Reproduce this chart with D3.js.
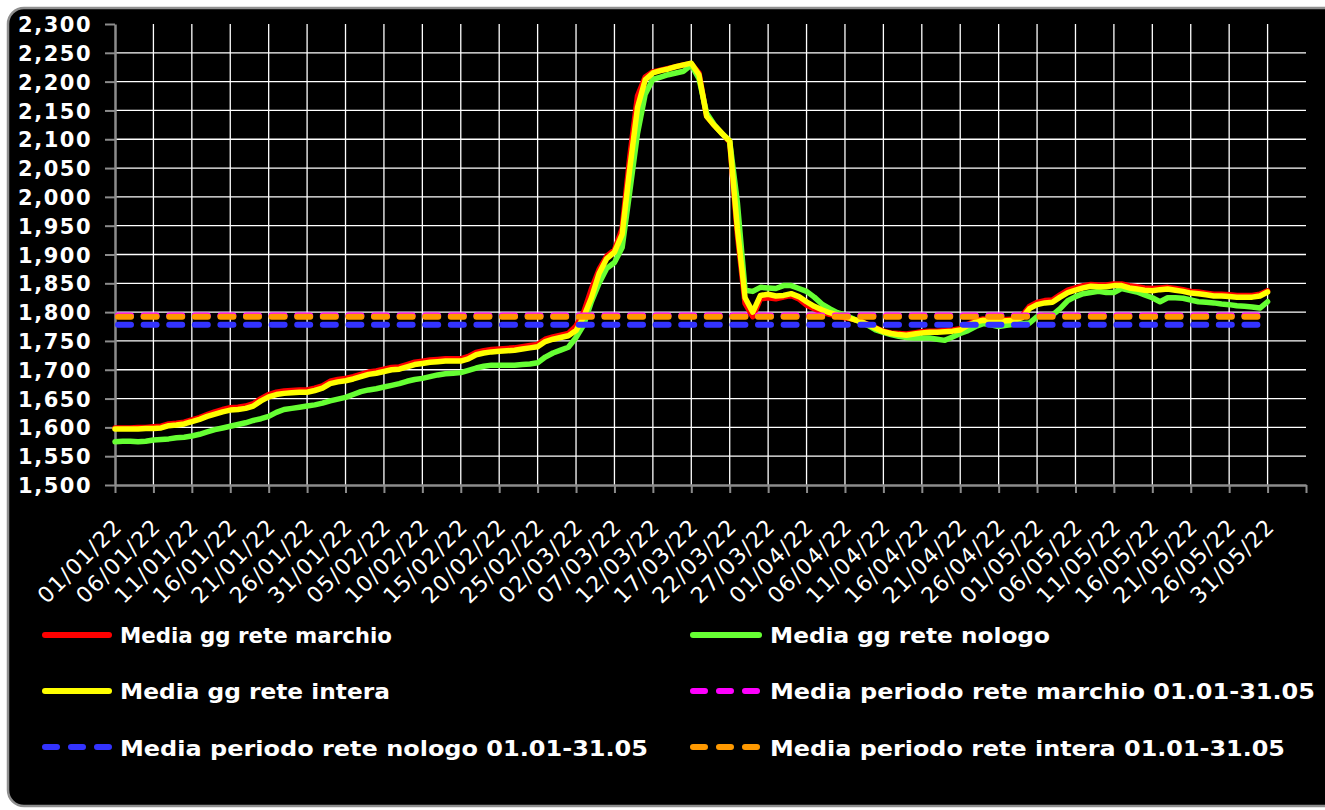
<!DOCTYPE html>
<html><head><meta charset="utf-8">
<script src="https://cdn.jsdelivr.net/npm/d3@7"></script>
<style>html,body{margin:0;padding:0;background:#fff;} svg{display:block;}</style>
</head><body>
<svg id="chart" width="1325" height="810"></svg>
<script>
// ---------- DATA ----------
const tickLabels = ["01/01/22","06/01/22","11/01/22","16/01/22","21/01/22","26/01/22","31/01/22",
  "05/02/22","10/02/22","15/02/22","20/02/22","25/02/22","02/03/22","07/03/22","12/03/22","17/03/22",
  "22/03/22","27/03/22","01/04/22","06/04/22","11/04/22","16/04/22","21/04/22","26/04/22","01/05/22",
  "06/05/22","11/05/22","16/05/22","21/05/22","26/05/22","31/05/22"];
const yTicks = [1500,1550,1600,1650,1700,1750,1800,1850,1900,1950,2000,2050,2100,2150,2200,2250,2300];

const marchio = [1599,1599,1599,1600,1600, 1601,1602,1606,1607,1609, 1613,1617,1622,1627,1631, 1634,1635,1637,1641,1650,
  1657,1661,1663,1664,1665, 1665,1668,1672,1680,1683, 1685,1688,1692,1696,1698, 1701,1704,1705,1709,1713,
  1715,1717,1718,1719,1719, 1719,1723,1730,1733,1735, 1736,1737,1738,1740,1742, 1744,1753,1757,1760,1763,
  1776,1800,1840,1874,1897, 1908,1945,2070,2175,2208, 2217,2220,2223,2226,2229, 2231,2215,2140,2124,2110,
  2095,1935,1815,1792,1823, 1825,1823,1826,1829,1823, 1812,1806,1800,1796,1793, 1790,1788,1784,1779,1773,
  1767,1764,1763,1762,1764, 1766,1767,1767,1768,1769, 1771,1779,1785,1788,1787, 1786,1787,1788,1793,1810,
  1817,1820,1821,1830,1838, 1842,1846,1848,1847,1847, 1849,1849,1846,1844,1842, 1841,1842,1843,1841,1839,
  1836,1835,1833,1831,1831, 1830,1829,1829,1829,1831, 1837];

const nologo = [1575,1576,1576,1575,1576, 1578,1579,1580,1582,1583, 1585,1588,1592,1596,1599, 1602,1605,1608,1612,1615,
  1619,1626,1631,1633,1635, 1637,1639,1642,1646,1649, 1652,1657,1662,1665,1667, 1670,1673,1676,1680,1683,
  1685,1688,1691,1693,1694, 1695,1699,1703,1706,1708, 1708,1708,1708,1709,1710, 1712,1722,1729,1734,1739,
  1756,1778,1818,1850,1876, 1886,1912,2010,2110,2178, 2204,2208,2212,2215,2218, 2229,2205,2145,2125,2110,
  2097,1990,1838,1836,1843, 1842,1841,1846,1846,1841, 1836,1826,1814,1806,1799, 1795,1789,1783,1777,1769,
  1765,1761,1758,1756,1755, 1755,1755,1753,1751,1757, 1763,1768,1775,1780,1778, 1775,1777,1779,1780,1781,
  1792,1795,1795,1806,1820, 1827,1832,1834,1836,1834, 1834,1841,1838,1835,1830, 1825,1818,1825,1825,1824,
  1821,1818,1817,1816,1814, 1813,1811,1810,1809,1807, 1818];

const intera = [1597,1597,1597,1597,1598, 1598,1599,1603,1604,1606, 1610,1614,1619,1623,1627, 1630,1631,1633,1637,1646,
  1653,1657,1659,1660,1661, 1661,1664,1668,1676,1679, 1681,1684,1688,1692,1694, 1697,1700,1701,1705,1709,
  1711,1713,1714,1715,1715, 1715,1719,1726,1729,1731, 1732,1733,1734,1736,1738, 1740,1749,1753,1756,1759,
  1768,1792,1825,1867,1893, 1904,1935,2050,2155,2203, 2215,2219,2222,2226,2229, 2232,2212,2140,2124,2110,
  2097,1945,1825,1800,1829, 1831,1828,1829,1832,1827, 1818,1810,1804,1799,1795, 1792,1788,1784,1778,1772,
  1766,1763,1761,1760,1762, 1764,1765,1765,1766,1767, 1769,1777,1783,1786,1785, 1784,1785,1786,1790,1806,
  1813,1816,1817,1826,1834, 1838,1842,1845,1844,1844, 1846,1846,1842,1840,1838, 1837,1839,1840,1838,1836,
  1833,1832,1830,1828,1828, 1827,1826,1826,1826,1828, 1835];

const avgMarchio = [1794];
const avgNologo = [1778];
const avgIntera = [1792];

const seriesNames = ["Media gg rete marchio","Media gg rete nologo","Media gg rete intera",
  "Media periodo rete marchio 01.01-31.05","Media periodo rete nologo 01.01-31.05","Media periodo rete intera 01.01-31.05"];
const seriesColors = ["#ff0000","#66ff33","#ffff00","#ff00ff","#3333ff","#ff9900"];

// ---------- CHART ----------
const svg = d3.select("#chart");
svg.append("rect").attr("x",8).attr("y",8).attr("width",1345).attr("height",798).attr("rx",16)
  .attr("fill","#000").attr("stroke","#8f8f8f").attr("stroke-width",2.5);

const days = d3.utcDay.range(new Date(Date.UTC(2022,0,1)), new Date(Date.UTC(2022,5,6))); // 156 categories
const x = d3.scaleUtc().domain([days[0], days[155]]).range([115,1306]);
const y = d3.scaleLinear().domain([1500,2300]).range([485,24]);

// gridlines
const grid = svg.append("g");
grid.selectAll("line.h").data(yTicks.filter(v=>v>1500 && v<2300)).join("line")
  .attr("x1",x(days[0])).attr("x2",x(days[155])).attr("y1",d=>y(d)).attr("y2",d=>y(d))
  .attr("stroke","#fff").attr("stroke-width",1.3);
grid.selectAll("line.v").data(days.filter((d,i)=>i%5===0 && i>0 && i<155)).join("line")
  .attr("x1",d=>x(d)).attr("x2",d=>x(d)).attr("y1",y(2300)).attr("y2",y(1500))
  .attr("stroke","#fff").attr("stroke-width",1.3);

// axes
const tickDays = days.filter((d,i)=>i%5===0);
const xAxis = svg.append("g").attr("transform",`translate(0,${y(1500)})`)
  .call(d3.axisBottom(x).tickValues(tickDays).tickFormat((d,i)=>tickLabels[i]||"").tickSize(8).tickSizeOuter(0));
xAxis.select(".domain").attr("stroke","#8c8c8c").attr("stroke-width",2.5);
xAxis.selectAll(".tick line").attr("stroke","#8c8c8c").attr("stroke-width",2);
xAxis.selectAll(".tick text").attr("fill","#fff").attr("font-family","DejaVu Sans").attr("font-size",22)
  .attr("letter-spacing",1.2)
  .attr("x",0).attr("y",0).attr("dy",0).attr("text-anchor","end")
  .attr("transform","translate(8,43) rotate(-45)");

const yAxis = svg.append("g").attr("transform",`translate(${x(days[0])},0)`)
  .call(d3.axisLeft(y).tickValues(yTicks).tickFormat(d3.format(",")).tickSize(10).tickPadding(13).tickSizeOuter(0));
yAxis.select(".domain").attr("stroke","#8c8c8c").attr("stroke-width",2.5);
yAxis.selectAll(".tick line").attr("stroke","#8c8c8c").attr("stroke-width",2);
yAxis.selectAll(".tick text").attr("fill","#fff").attr("font-family","DejaVu Sans").attr("font-weight","bold")
  .attr("font-size",21).attr("letter-spacing",1.5).attr("dy","0.36em");

// series
const line = d3.line().x((d,i)=>x(days[i])).y(d=>y(d));
const solid = [marchio, nologo, intera];
solid.forEach((s,k)=>{
  svg.append("path").datum(s).attr("d",line).attr("fill","none").attr("stroke",seriesColors[k])
    .attr("stroke-width",5.5).attr("stroke-linejoin","round").attr("stroke-linecap","round");
});
const avgs = [avgMarchio, avgNologo, avgIntera];
avgs.forEach((a,k)=>{
  const pts = [a[0], a[0]];
  svg.append("path").datum(pts)
    .attr("d", d3.line().x((d,i)=>x(days[i*150])).y(d=>y(d)))
    .attr("fill","none").attr("stroke",seriesColors[k+3]).attr("stroke-width",6)
    .attr("stroke-dasharray","13,12.6").attr("stroke-dashoffset",-3).attr("stroke-linecap","round");
});

// legend
const legendItems = [
  {i:0, col:0, row:0, w:272},
  {i:1, col:1, row:0, w:280},
  {i:2, col:0, row:1, w:270},
  {i:3, col:1, row:1, w:545},
  {i:4, col:0, row:2, w:528},
  {i:5, col:1, row:2, w:515}
];
const colX = [[42,112,120],[690,762,770]];
const rowLine = [635,691,747];
const rowBase = [643,699,756];
const lg = svg.append("g");
legendItems.forEach(it=>{
  const [lx1,lx2,tx] = colX[it.col];
  const ln = lg.append("line").attr("x1",lx1+3).attr("x2",lx2-3)
    .attr("y1",rowLine[it.row]).attr("y2",rowLine[it.row])
    .attr("stroke",seriesColors[it.i]).attr("stroke-width",6).attr("stroke-linecap","round");
  if (it.i>=3) ln.attr("stroke-dasharray","12,14");
  lg.append("text").attr("x",tx).attr("y",rowBase[it.row]).text(seriesNames[it.i])
    .attr("fill","#fff").attr("font-family","'DejaVu Sans'")
    .attr("font-weight","bold").attr("font-size",22)
    .attr("textLength",it.w).attr("lengthAdjust","spacingAndGlyphs");
});
</script>
</body></html>
